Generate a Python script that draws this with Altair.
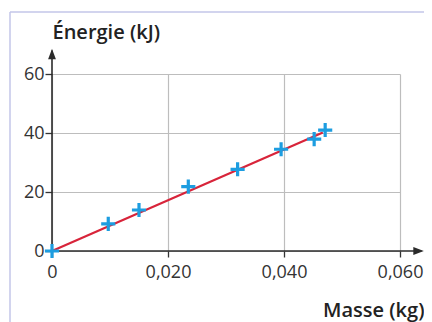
import altair as alt
import pandas as pd

# measured points
mass = [0, 0.0097, 0.0150, 0.0235, 0.0320, 0.0395, 0.0452, 0.0471]
energy = [0, 9.2, 13.9, 21.8, 27.7, 34.5, 37.9, 41.0]

# fitted line
fit_mass = [0, 0.0467]
fit_energy = [0, 40.2]

x_ticks = [0, 0.02, 0.04, 0.06]
y_ticks = [0, 20, 40, 60]

# axis extensions with arrow heads
x_axis_end = 0.0637
y_axis_end = 68.0
x_arrow = 0.0632
y_arrow = 66.8

pts = pd.DataFrame({"m": mass, "e": energy})
fit = pd.DataFrame({"m": fit_mass, "e": fit_energy})

W, H = 348, 177
LEFT, TOP = 44, 66

xs = alt.Scale(domain=[0, 0.06], nice=False, zero=False)
ys = alt.Scale(domain=[0, 60], nice=False, zero=False)

label_expr_x = "datum.value == 0 ? '0' : replace(format(datum.value, '.3f'), '.', ',')"

base_x = alt.X(
    "m:Q", scale=xs,
    axis=alt.Axis(
        values=x_ticks, labelExpr=label_expr_x, domain=False,
        grid=True, gridColor="#bdbdbd", gridWidth=1.2,
        tickColor="#333333", tickSize=6, tickWidth=1.3,
        labelFont="Open Sans", labelFontSize=18, labelColor="#333333",
        labelPadding=6, labelFlush=False,
        title="Masse (kg)", titleFont="Open Sans", titleFontSize=20,
        titleFontWeight=600, titleColor="#222222", titleAngle=0,
        titleAlign="right", titleBaseline="alphabetic",
        titleX=372, titleY=65, titleAnchor="end",
    ),
)
base_y = alt.Y(
    "e:Q", scale=ys,
    axis=alt.Axis(
        values=y_ticks, domain=False,
        grid=True, gridColor="#bdbdbd", gridWidth=1.2,
        tickColor="#333333", tickSize=7, tickWidth=1.3,
        labelFont="Open Sans", labelFontSize=18, labelColor="#333333",
        labelPadding=1, labelFlush=False,
        title="Énergie (kJ)", titleFont="Open Sans", titleFontSize=20,
        titleFontWeight=600, titleColor="#222222", titleAngle=0,
        titleAlign="left", titleBaseline="alphabetic",
        titleX=0, titleY=-36, titleAnchor="start",
    ),
)

grid_layer = alt.Chart(pts).mark_point(opacity=0).encode(x=base_x, y=base_y)

x_axis_df = pd.DataFrame({"m": [0, x_axis_end], "e": [0, 0]})
y_axis_df = pd.DataFrame({"m": [0, 0], "e": [0, y_axis_end]})

x_axis_line = alt.Chart(x_axis_df).mark_line(color="#2b2b2b", strokeWidth=1.6).encode(
    x=alt.X("m:Q", scale=xs), y=alt.Y("e:Q", scale=ys))
y_axis_line = alt.Chart(y_axis_df).mark_line(color="#2b2b2b", strokeWidth=1.6).encode(
    x=alt.X("m:Q", scale=xs), y=alt.Y("e:Q", scale=ys))

x_head = alt.Chart(pd.DataFrame({"m": [x_arrow], "e": [0]})).mark_point(
    shape="M-1,-0.75L1,0L-1,0.75Z", filled=True, color="#2b2b2b", size=110, opacity=1
).encode(x=alt.X("m:Q", scale=xs), y=alt.Y("e:Q", scale=ys))
y_head = alt.Chart(pd.DataFrame({"m": [0], "e": [y_arrow]})).mark_point(
    shape="M-0.75,1L0,-1L0.75,1Z", filled=True, color="#2b2b2b", size=110, opacity=1
).encode(x=alt.X("m:Q", scale=xs), y=alt.Y("e:Q", scale=ys))

fit_line = alt.Chart(fit).mark_line(color="#d8243a", strokeWidth=2.2).encode(
    x=alt.X("m:Q", scale=xs), y=alt.Y("e:Q", scale=ys))

markers = alt.Chart(pts).mark_point(
    shape="M-1,0L1,0M0,-1L0,1", filled=False, color="#1d9de0",
    strokeWidth=3.2, size=200, opacity=1
).encode(x=alt.X("m:Q", scale=xs), y=alt.Y("e:Q", scale=ys))

one = alt.Data(values=[{"a": 1}])
frame_left = alt.Chart(one).mark_rule(color="#c3c6e8", strokeWidth=1.5).encode(
    x=alt.value(-42), y=alt.value(-62), y2=alt.value(248))
frame_top = alt.Chart(one).mark_rule(color="#c3c6e8", strokeWidth=1.5).encode(
    x=alt.value(-42), x2=alt.value(372), y=alt.value(-62))

chart = alt.layer(
    grid_layer, frame_left, frame_top, fit_line, x_axis_line, y_axis_line,
    x_head, y_head, markers
).properties(
    width=W, height=H,
    autosize=alt.AutoSizeParams(type="none"),
    padding={"left": LEFT, "top": TOP, "right": 24, "bottom": 71},
).configure_view(stroke=None)

chart.save("out.html", embed_options={"renderer": "svg", "actions": False})
